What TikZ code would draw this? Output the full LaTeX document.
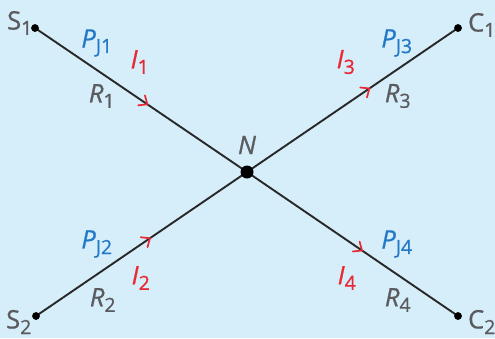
\documentclass[tikz,border=0pt]{standalone}
\usepackage{fontspec}
\setmainfont{Open Sans}[FakeBold=0.8, ItalicFeatures={FakeBold=0.8}]
\usetikzlibrary{decorations.markings}
\definecolor{bgblue}{RGB}{214,238,250}
\definecolor{lblue}{RGB}{35,120,200}
\definecolor{lred}{RGB}{232,40,50}
\definecolor{lgray}{RGB}{90,90,95}
\definecolor{wire}{RGB}{40,40,40}
\tikzset{
  wirel/.style={draw=wire, line width=1.9pt, postaction={decorate},
    decoration={markings, mark=at position #1 with {\draw[lred, line width=1.7pt, line cap=round, line join=miter] (-7pt,6pt) -- (0,0) -- (-7pt,-6pt);}}},
  lab/.style={font=\fontsize{25.5}{25.5}\selectfont, inner sep=0pt},
  pj/.style={lab, text=lblue},
  cur/.style={lab, text=lred},
  res/.style={lab, text=lgray},
  term/.style={lab, text=lgray},
  enddot/.style={circle, fill=black, inner sep=0pt, minimum size=7.5pt},
  ndot/.style={circle, fill=black, inner sep=0pt, minimum size=13pt}
}
\newcommand{\sbs}[1]{\textsubscript{\fontsize{19.5}{19.5}\selectfont #1}}
\begin{document}
\begin{tikzpicture}[x=1pt, y=-1pt]
\fill[bgblue] (0,0) rectangle (495,338);
\useasboundingbox (0,0) rectangle (495,338);
\node[enddot] (s1) at (35,28) {};
\node[enddot] (c1) at (458,28) {};
\node[enddot] (s2) at (36,316) {};
\node[enddot] (c2) at (458,316) {};
\coordinate (n) at (247,172);
\path[wirel=0.53] (s1.center) -- (n);
\path[wirel=0.58] (n) -- (c1.center);
\path[wirel=0.54] (s2.center) -- (n);
\path[wirel=0.545] (n) -- (c2.center);
\node[ndot] (nd) at (n) {};
\node[enddot] at (s1) {};
\node[enddot] at (c1) {};
\node[enddot] at (s2) {};
\node[enddot] at (c2) {};
\node[term] (ls1) at (20,23) {S\sbs{1}};
\node[term] (lc1) at (482,25) {C\sbs{1}};
\node[term] (ls2) at (19,322) {S\sbs{2}};
\node[term] (lc2) at (482,322) {C\sbs{2}};
\node[term] (ln) at (247,145) {\textit{N}};
\node[pj] (p1) at (97,43) {\textit{P}\sbs{J1}};
\node[pj] (p3) at (397,43) {\textit{P}\sbs{J3}};
\node[pj] (p2) at (97,244) {\textit{P}\sbs{J2}};
\node[pj] (p4) at (397,244) {\textit{P}\sbs{J4}};
\node[cur] (i1) at (140,62) {\textit{I}\sbs{1}};
\node[cur] (i3) at (346,62) {\textit{I}\sbs{3}};
\node[cur] (i2) at (141,278) {\textit{I}\sbs{2}};
\node[cur] (i4) at (347,278) {\textit{I}\sbs{4}};
\node[res] (r1) at (102,96) {\textit{R}\sbs{1}};
\node[res] (r3) at (398,96) {\textit{R}\sbs{3}};
\node[res] (r2) at (103,300) {\textit{R}\sbs{2}};
\node[res] (r4) at (398,300) {\textit{R}\sbs{4}};
\end{tikzpicture}
\end{document}
